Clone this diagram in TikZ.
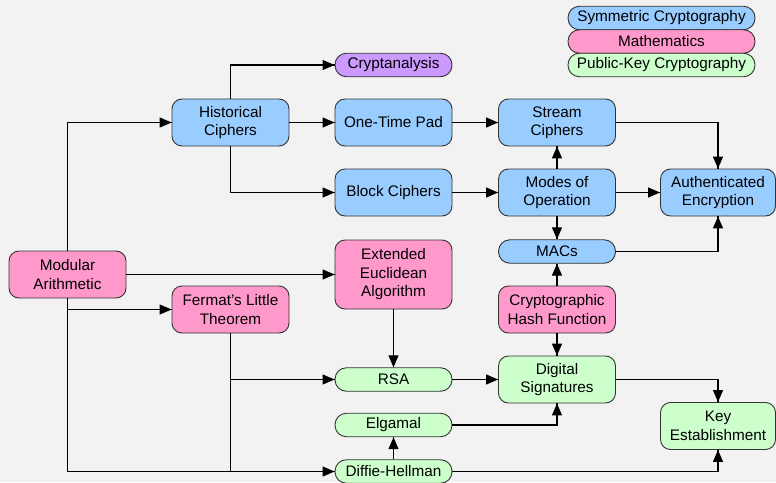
\documentclass[tikz,border=0pt]{standalone}
\usepackage{fontspec}
\setmainfont{Liberation Sans}
\usepackage{tikz}
\usetikzlibrary{arrows.meta}
\usetikzlibrary{decorations.markings}
\definecolor{bggray}{HTML}{F2F2F2}
\definecolor{symblue}{HTML}{99CCFF}
\definecolor{mathpink}{HTML}{FF99CC}
\definecolor{pubgreen}{HTML}{CCFFCC}
\definecolor{anapurple}{HTML}{CC99FF}
\definecolor{edgegray}{HTML}{333333}
\tikzset{arr/.style = {decoration={markings,
                                   mark=at position 1 with {\arrow{Triangle[length=12pt, width=10pt]}}},
                       postaction={decorate}}}
\tikzset{box/.style = {draw=edgegray, line width=0.9pt, rounded corners=10pt, align=center,
                       minimum width=117pt, minimum height=47pt, inner sep=2pt}}
\tikzset{pill/.style = {box, rounded corners=11.5pt, minimum height=23.5pt}}
\tikzset{sym/.style = {fill=symblue}, math/.style = {fill=mathpink},
         pub/.style = {fill=pubgreen}, ana/.style = {fill=anapurple}}

\begin{document}
\begin{tikzpicture}[x=1pt, y=-1pt, font=\fontsize{15.3}{18.5}\selectfont, line width=1.3pt]
    \fill [bggray] (0, 0) rectangle (776, 482);
    \useasboundingbox (0, 0) rectangle (776, 482);

    % legend
    \node [pill, sym, minimum width=187pt] (legsym) at (661.5, 18) {Symmetric Cryptography};
    \node [pill, math, minimum width=187pt] (legmath) at (661.5, 41.5) {Mathematics};
    \node [pill, pub, minimum width=187pt] (legpub) at (661.5, 65) {Public-Key Cryptography};

    \node [box, math] (mod) at (67.5, 274.5) {Modular\\Arithmetic};
    \node [box, sym] (hist) at (230.5, 122.5) {Historical\\Ciphers};
    \node [box, math] (ferm) at (230.5, 309.5) {Fermat’s Little\\Theorem};

    \node [pill, ana] (crypt) at (393.5, 65) {Cryptanalysis};
    \node [box, sym] (otp) at (393.5, 122.5) {One-Time Pad};
    \node [box, sym] (block) at (393.5, 192.5) {Block Ciphers};
    \node [box, math, minimum height=69pt] (euc) at (393.5, 274.5) {Extended\\Euclidean\\Algorithm};
    \node [pill, pub] (rsa) at (393.5, 379.5) {RSA};
    \node [pill, pub] (elg) at (393.5, 425) {Elgamal};
    \node [pill, pub] (dh) at (393.5, 471.5) {Diffie-Hellman};

    \node [box, sym] (stream) at (557, 122.5) {Stream\\Ciphers};
    \node [box, sym] (modes) at (557, 192.5) {Modes of\\Operation};
    \node [pill, sym] (macs) at (557, 251.5) {MACs};
    \node [box, math] (hash) at (557, 309.5) {Cryptographic\\Hash Function};
    \node [box, pub] (dsig) at (557, 379.5) {Digital\\Signatures};

    \node [box, sym, minimum width=115pt] (ae) at (718, 192.5) {Authenticated\\Encryption};
    \node [box, pub, minimum width=115pt] (ke) at (718, 426) {Key\\Establishment};

    % modular arithmetic
    \draw [arr] (mod.north) |- (hist.west);
    \draw [arr] (mod.east) -- (euc.west);
    \draw [arr] (mod.south) |- (ferm.west);
    \draw [arr] (mod.south) |- (dh.west);
    \draw [arr] (ferm.south) |- (rsa.west);
    \draw (ferm.south) -- (ferm.south |- dh.west);

    % symmetric side
    \draw [arr] (hist.north) |- (crypt.west);
    \draw [arr] (hist) -- (otp);
    \draw [arr] (hist.south) |- (block.west);
    \draw [arr] (otp) -- (stream);
    \draw [arr] (block) -- (modes);
    \draw [arr] (modes) -- (stream);
    \draw [arr] (modes) -- (ae);
    \draw [arr] (modes) -- (macs);
    \draw [arr] (stream.east) -| (ae.north);
    \draw [arr] (macs.east) -| (ae.south);
    \draw [arr] (hash) -- (macs);

    % public-key side
    \draw [arr] (hash) -- (dsig);
    \draw [arr] (euc) -- (rsa);
    \draw [arr] (rsa) -- (dsig);
    \draw [arr] (elg.east) -| (dsig.south);
    \draw [arr] (dh) -- (elg);
    \draw [arr] (dh.east) -| (ke.south);
    \draw [arr] (dsig.east) -| (ke.north);
  \end{tikzpicture}
\end{document}
